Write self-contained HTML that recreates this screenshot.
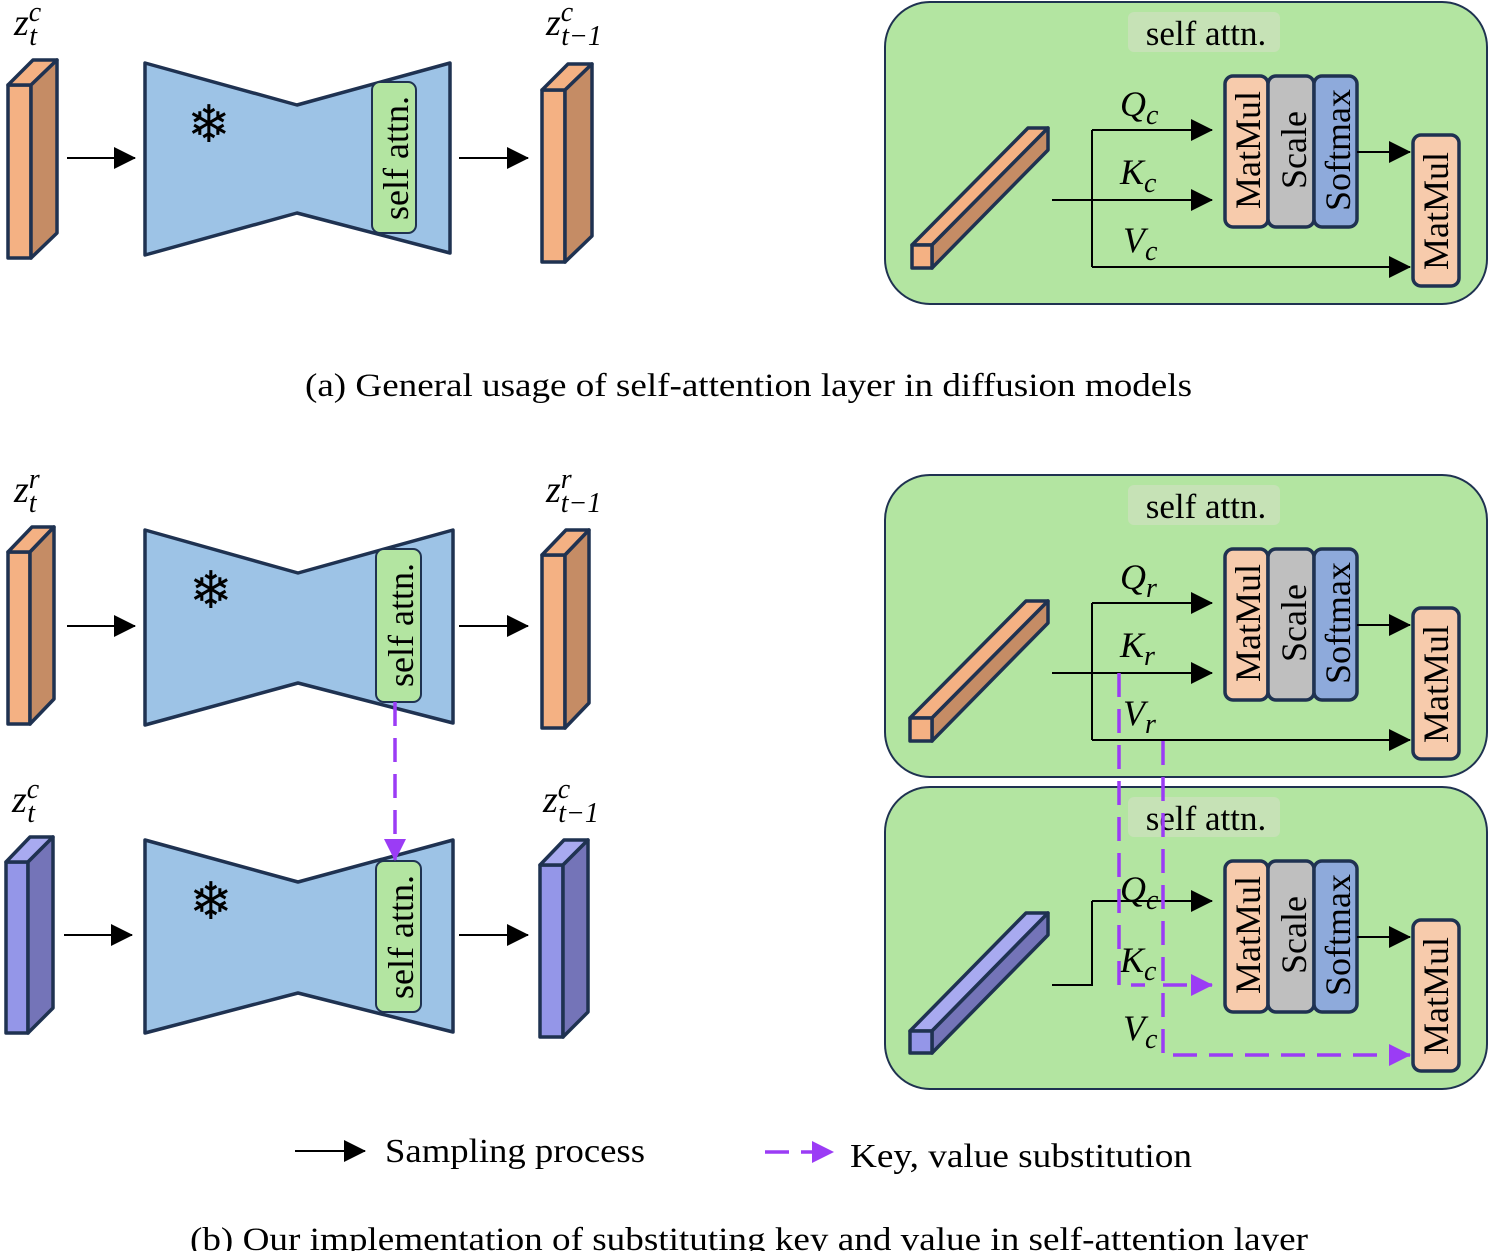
<!DOCTYPE html>
<html><head><meta charset="utf-8"><style>
body{margin:0;background:#fff}
svg{display:block}
text{font-family:"Liberation Serif",serif;fill:#000}
.it{font-style:italic}
</style></head><body>
<svg width="1495" height="1251" viewBox="0 0 1495 1251" xmlns="http://www.w3.org/2000/svg">
<defs>
<marker id="ah" markerWidth="22" markerHeight="22" refX="21" refY="11" orient="auto" markerUnits="userSpaceOnUse" viewBox="0 0 22 22"><path d="M0,0 L22,11 L0,22z" fill="#000"/></marker>
<marker id="ap" markerWidth="22" markerHeight="22" refX="21" refY="11" orient="auto" markerUnits="userSpaceOnUse" viewBox="0 0 22 22"><path d="M0,0 L22,11 L0,22z" fill="#9b3cf5"/></marker>
</defs>
<style>
.bk{stroke:#000;stroke-width:2;fill:none}
.pu{stroke:#9b3cf5;stroke-width:3.5;fill:none;stroke-dasharray:24,12}
.ol{stroke:#1f3251;stroke-width:3.5;stroke-linejoin:round}
.sf{font-family:"DejaVu Sans",sans-serif;font-weight:bold}
</style>

<g class="ol">
<rect x="8" y="85" width="23" height="173" fill="#f4b183"/>
<polygon points="8,85 33,60 57,60 31,85" fill="#f4b183"/>
<polygon points="31,85 57,60 57,233 31,258" fill="#c58c65"/>
<polygon points="145,63 297,105 450,63 450,253 297,213 145,255" fill="#9dc3e6"/>
<rect x="372" y="82" width="44" height="151" rx="8" fill="#b3e5a1" stroke-width="2"/>
<rect x="542" y="90" width="23" height="172" fill="#f4b183"/>
<polygon points="542,90 568,64 592,64 565,90" fill="#f4b183"/>
<polygon points="565,90 592,64 592,236 565,262" fill="#c58c65"/>
</g>
<text x="209" y="142" font-size="52" text-anchor="middle" class="sf">❄</text>
<text transform="translate(408,158) rotate(-90)" font-size="36" text-anchor="middle">self attn.</text>
<line x1="67" y1="158" x2="135" y2="158" class="bk" marker-end="url(#ah)"/>
<line x1="459" y1="158" x2="528" y2="158" class="bk" marker-end="url(#ah)"/>
<text x="14" y="35" font-size="38" class="it">z<tspan font-size="28" dy="-14">c</tspan><tspan font-size="28" dx="-12" dy="24">t</tspan></text>
<text x="546" y="35" font-size="38" class="it">z<tspan font-size="28" dy="-14">c</tspan><tspan font-size="28" dx="-12" dy="24">t−1</tspan></text>

<g id="panelA">
<rect x="885" y="2" width="602" height="302" rx="45" fill="#b3e5a1" stroke="#1f3251" stroke-width="2"/>
<rect x="1128" y="12" width="152" height="40" rx="6" fill="#c6e2b6"/>
<text x="1206" y="45" font-size="35" text-anchor="middle">self attn.</text>
<g class="ol" stroke-width="2.5">
<rect x="1225" y="76" width="43" height="151" rx="8" fill="#f7cbac"/>
<rect x="1268" y="76" width="46" height="151" rx="8" fill="#bfbfbf"/>
<rect x="1314" y="76" width="43" height="151" rx="8" fill="#8eaadb"/>
<rect x="1413" y="135" width="46" height="151" rx="8" fill="#f7cbac"/>
</g>
<text transform="translate(1260,150) rotate(-90)" font-size="36" text-anchor="middle">MatMul</text>
<text transform="translate(1306,150) rotate(-90)" font-size="36" text-anchor="middle">Scale</text>
<text transform="translate(1350,150) rotate(-90)" font-size="36" text-anchor="middle">Softmax</text>
<text transform="translate(1448,211) rotate(-90)" font-size="36" text-anchor="middle">MatMul</text>
<line x1="1357" y1="152" x2="1410" y2="152" class="bk" marker-end="url(#ah)"/>
</g>
<g class="ol" stroke-width="3">
<polygon points="912,245 1028,128 1048,128 932,245" fill="#f4b183"/>
<polygon points="932,245 1048,128 1048,150 932,268" fill="#c58c65"/>
<rect x="912" y="245" width="20" height="23" fill="#f4b183"/>
</g>
<line x1="1052" y1="200" x2="1212" y2="200" class="bk" marker-end="url(#ah)"/>
<polyline points="1092,130 1092,267" class="bk"/>
<line x1="1092" y1="130" x2="1212" y2="130" class="bk" marker-end="url(#ah)"/>
<line x1="1092" y1="267" x2="1410" y2="267" class="bk" marker-end="url(#ah)"/>
<text x="1120" y="116" font-size="36" class="it">Q<tspan font-size="28" dy="8">c</tspan></text>
<text x="1120" y="184" font-size="36" class="it">K<tspan font-size="28" dy="8">c</tspan></text>
<text x="1123" y="252" font-size="36" class="it">V<tspan font-size="28" dy="8">c</tspan></text>

<text x="305" y="396" font-size="33" textLength="887" lengthAdjust="spacingAndGlyphs">(a) General usage of self-attention layer in diffusion models</text>

<g class="ol">
<rect x="8" y="552" width="22" height="172" fill="#f4b183"/>
<polygon points="8,552 32,527 54,527 30,552" fill="#f4b183"/>
<polygon points="30,552 54,527 54,699 30,724" fill="#c58c65"/>
<polygon points="145,530 298,573 453,530 453,723 298,683 145,725" fill="#9dc3e6"/>
<rect x="376" y="549" width="45" height="153" rx="8" fill="#b3e5a1" stroke-width="2"/>
<rect x="542" y="555" width="23" height="173" fill="#f4b183"/>
<polygon points="542,555 566,530 589,530 565,555" fill="#f4b183"/>
<polygon points="565,555 589,530 589,703 565,728" fill="#c58c65"/>
</g>
<text x="211" y="608" font-size="52" text-anchor="middle" class="sf">❄</text>
<text transform="translate(413,625) rotate(-90)" font-size="36" text-anchor="middle">self attn.</text>
<line x1="67" y1="626" x2="135" y2="626" class="bk" marker-end="url(#ah)"/>
<line x1="459" y1="626" x2="528" y2="626" class="bk" marker-end="url(#ah)"/>
<text x="14" y="502" font-size="38" class="it">z<tspan font-size="28" dy="-14">r</tspan><tspan font-size="28" dx="-11" dy="24">t</tspan></text>
<text x="546" y="502" font-size="38" class="it">z<tspan font-size="28" dy="-14">r</tspan><tspan font-size="28" dx="-11" dy="24">t−1</tspan></text>

<g class="ol">
<rect x="6" y="862" width="22" height="171" fill="#9496e8"/>
<polygon points="6,862 30,837 53,837 28,862" fill="#a8aaf0"/>
<polygon points="28,862 53,837 53,1008 28,1033" fill="#7474b8"/>
<polygon points="145,840 298,882 453,840 453,1032 298,993 145,1033" fill="#9dc3e6"/>
<rect x="376" y="861" width="45" height="151" rx="8" fill="#b3e5a1" stroke-width="2"/>
<rect x="540" y="865" width="23" height="172" fill="#9496e8"/>
<polygon points="540,865 564,840 588,840 563,865" fill="#a8aaf0"/>
<polygon points="563,865 588,840 588,1012 563,1037" fill="#7474b8"/>
</g>
<text x="211" y="919" font-size="52" text-anchor="middle" class="sf">❄</text>
<text transform="translate(413,937) rotate(-90)" font-size="36" text-anchor="middle">self attn.</text>
<line x1="64" y1="935" x2="132" y2="935" class="bk" marker-end="url(#ah)"/>
<line x1="459" y1="935" x2="528" y2="935" class="bk" marker-end="url(#ah)"/>
<text x="12" y="812" font-size="38" class="it">z<tspan font-size="28" dy="-14">c</tspan><tspan font-size="28" dx="-12" dy="24">t</tspan></text>
<text x="543" y="812" font-size="38" class="it">z<tspan font-size="28" dy="-14">c</tspan><tspan font-size="28" dx="-12" dy="24">t−1</tspan></text>
<line x1="395" y1="702" x2="395" y2="860" class="pu" marker-end="url(#ap)"/>

<use href="#panelA" transform="translate(0,473)"/>
<g class="ol" stroke-width="3">
<polygon points="910,718 1026,601 1048,601 932,718" fill="#f4b183"/>
<polygon points="932,718 1048,601 1048,623 932,741" fill="#c58c65"/>
<rect x="910" y="718" width="22" height="23" fill="#f4b183"/>
</g>
<line x1="1052" y1="673" x2="1212" y2="673" class="bk" marker-end="url(#ah)"/>
<polyline points="1092,603 1092,740" class="bk"/>
<line x1="1092" y1="603" x2="1212" y2="603" class="bk" marker-end="url(#ah)"/>
<line x1="1092" y1="740" x2="1410" y2="740" class="bk" marker-end="url(#ah)"/>
<text x="1120" y="589" font-size="36" class="it">Q<tspan font-size="28" dy="8">r</tspan></text>
<text x="1120" y="657" font-size="36" class="it">K<tspan font-size="28" dy="8">r</tspan></text>
<text x="1123" y="725" font-size="36" class="it">V<tspan font-size="28" dy="8">r</tspan></text>

<use href="#panelA" transform="translate(0,785)"/>
<g class="ol" stroke-width="3">
<polygon points="910,1031 1026,913 1048,913 932,1031" fill="#a8aaf0"/>
<polygon points="932,1031 1048,913 1048,935 932,1053" fill="#7474b8"/>
<rect x="910" y="1031" width="22" height="22" fill="#9496e8"/>
</g>
<polyline points="1052,985 1092,985 1092,901" class="bk"/>
<line x1="1092" y1="901" x2="1212" y2="901" class="bk" marker-end="url(#ah)"/>
<text x="1120" y="901" font-size="36" class="it">Q<tspan font-size="28" dy="8">c</tspan></text>
<text x="1120" y="972" font-size="36" class="it">K<tspan font-size="28" dy="8">c</tspan></text>
<text x="1123" y="1040" font-size="36" class="it">V<tspan font-size="28" dy="8">c</tspan></text>
<polyline points="1119,673 1119,985 1145,985" class="pu"/>
<line x1="1163" y1="985" x2="1212" y2="985" class="pu" stroke-dasharray="none" marker-end="url(#ap)"/>
<polyline points="1163,741 1163,1055 1410,1055" class="pu" marker-end="url(#ap)"/>

<line x1="295" y1="1151" x2="365" y2="1151" class="bk" marker-end="url(#ah)"/>
<text x="385" y="1162" font-size="34" textLength="260" lengthAdjust="spacingAndGlyphs">Sampling process</text>
<line x1="765" y1="1152" x2="833" y2="1152" class="pu" stroke-dasharray="30,10" marker-end="url(#ap)"/>
<text x="850" y="1167" font-size="34" textLength="342" lengthAdjust="spacingAndGlyphs">Key, value substitution</text>
<text x="190" y="1250" font-size="33" textLength="1118" lengthAdjust="spacingAndGlyphs">(b) Our implementation of substituting key and value in self-attention layer</text>
</svg>
</body></html>
